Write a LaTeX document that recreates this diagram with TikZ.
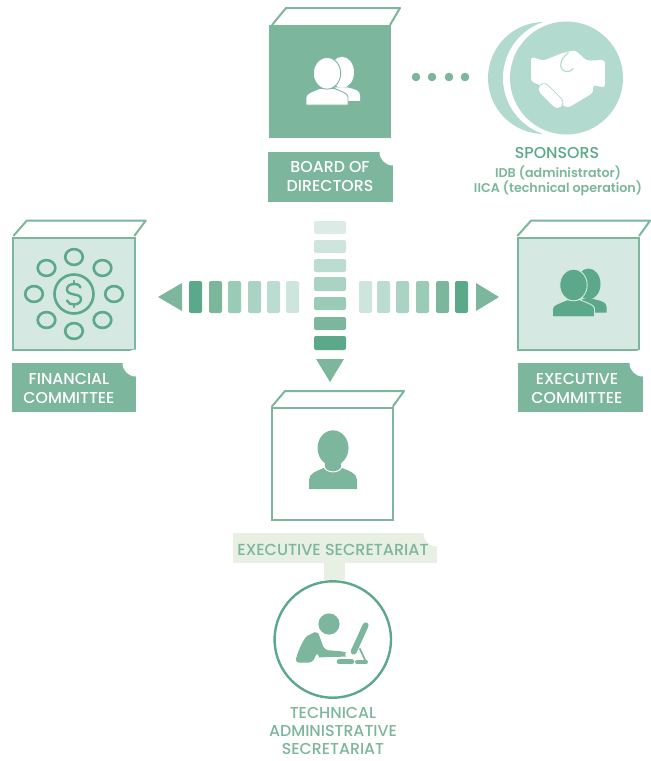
\documentclass[tikz,border=0pt]{standalone}
\usepackage{fontspec}
\setmainfont{Poppins Medium}
\newfontfamily\subfont{Poppins SemiBold}
\definecolor{gA}{HTML}{7CB69D}
\definecolor{gB}{HTML}{5BA88A}
\definecolor{gC}{HTML}{D5E9E2}
\definecolor{gD}{HTML}{B2DACF}
\definecolor{gE}{HTML}{E8EFE3}
\definecolor{b1}{HTML}{DDEBE6}
\definecolor{b2}{HTML}{CEE5DD}
\definecolor{b3}{HTML}{BBDDD1}
\definecolor{b4}{HTML}{ABD3C4}
\definecolor{b5}{HTML}{9ACBB6}
\tikzset{
  face/.style={draw=gA,line width=2pt,minimum width=121.5pt,minimum height=112.3pt,inner sep=0pt,outer sep=0pt,anchor=north west},
  toplid/.style={draw=gA,line width=2pt,fill=white,line join=round},
  labtext/.style={font=\fontsize{15.8}{19}\selectfont,align=center,text=white,inner sep=0pt},
  greentext/.style={font=\fontsize{15.8}{19}\selectfont,align=center,text=gA,inner sep=0pt},
  bar/.style={rounded corners=2pt},
  dot/.style={circle,fill=gA,minimum size=8.6pt,inner sep=0pt},
  ring/.style={draw=gB,line width=2.6pt}
}
\newcommand{\tagbox}[6]{% name x1 y1 x2 y2 colour
  \fill[#6] (#2,#3) rectangle (#4,#5);
  \fill[white] (#4,#3) circle (13.5);
  \coordinate (#1) at ({(#2+#4)/2},{(#3+#5)/2});
}
\newcommand{\twoheads}[4]{% x y fg bg
  \begin{scope}[shift={(#1,#2)}]
    \fill[#3] (15,-1) ellipse (12 and 15.5);
    \fill[#3] (8,14) -- (20,14) .. controls (28,16) and (33,17) .. (33,22) -- (33,27.5) -- (15,27.5) -- cycle;
    \fill[#3,draw=#4,line width=0.9pt] (-21,31.7) -- (-21,23.5) .. controls (-21,20) and (-14,18) .. (-7,15) -- (7,15) .. controls (14,18) and (21,20) .. (21,23.5) -- (21,31.7) -- cycle;
    \fill[#3,draw=#4,line width=0.9pt] (0,0) ellipse (13.7 and 15.8);
  \end{scope}
}
\begin{document}
\begin{tikzpicture}[x=1pt,y=-1pt]
\useasboundingbox (0,0) rectangle (651,761);
% Board
\draw[toplid] (272,25) -- (286,8) -- (400,8) -- (390,25);
\node[minimum width=122pt,minimum height=113pt,fill=gA,inner sep=0pt,outer sep=0pt,anchor=north west] (board) at (269,25) {};
\twoheads{327}{73.3}{white}{gA}
\tagbox{boardlab}{268}{152}{393}{202}{gA}
\node[labtext] (boardtxt) at (330,176.5) {BOARD OF\\DIRECTORS};
% Sponsors
\fill[gD] (544,78) circle (56);
\fill[white] (562,78) circle (59);
\node[circle,fill=gD,minimum size=113pt,inner sep=0pt,outer sep=0pt] (spons) at (566.5,78) {};
\begin{scope}[shift={(520,40)},x=0.3333pt,y=-0.3333pt]
  \fill[white,rounded corners=3pt] (33,50) -- (70,62) -- (125,40) -- (165,30) -- (200,62) -- (255,60) -- (255,143) -- (218,135) -- (220,158) -- (145,203) -- (125,195) -- (60,135) -- (33,124) -- cycle;
  \draw[gD,line width=1.1pt,line cap=round] (145,38) .. controls (128,52) and (113,72) .. (128,90) .. controls (138,98) and (150,96) .. (160,86);
  \draw[gD,line width=12.2pt,line cap=round] (72,148) -- (112,188);
  \draw[white,line width=10.6pt,line cap=round] (72,148) -- (112,188);
\end{scope}
\foreach \i/\px in {1/416,2/432,3/449,4/465} \node[dot] (d\i) at (\px,77) {};
\node[greentext,text=gB] (sponstxt) at (557,153) {SPONSORS};
\node[greentext,font=\subfont\fontsize{12.7}{14.2}\selectfont] (sponsub) at (558,181) {IDB (administrator)\\IICA (technical operation)};
% Vertical bars
\foreach \t/\b/\c in {221/234/b1,240/253/b2,259/272/b3,277/291/b4,297/310/b5,317/330/gA,336/350/gB}
  \fill[\c,bar] (314,\t) rectangle (346,\b);
\fill[gA] (316,359) -- (344,359) -- (330,382) -- cycle;
% Left bars
\foreach \l/\r/\c in {189/202/gB,209/222/gA,228/241/b5,248/261/b4,267/280/b3,286/299/b2}
  \fill[\c,bar] (\l,281) rectangle (\r,313);
\fill[gA] (158,297) -- (182,283) -- (182,311) -- cycle;
% Right bars
\foreach \l/\r/\c in {359/372/b2,377/390/b3,396/409/b4,416/429/b5,436/449/gA,455/468/gB}
  \fill[\c,bar] (\l,281) rectangle (\r,313);
\fill[gA] (476,283) -- (499,297) -- (476,311) -- cycle;
% Financial
\draw[toplid] (13.3,236) -- (26.7,220.7) -- (145.7,220.7) -- (134.3,236);
\node[face,fill=gC] (fin) at (13,237.7) {};
\draw[ring] (74,294) circle (19.5);
\foreach \cx/\cy in {74/257,46.5/268,102.5/268,34/294,114/294,46.5/320,102.5/320,74/331}
  \draw[ring] (\cx,\cy) ellipse (8.8 and 7.9);
\draw[gB,line width=2.4pt,line cap=round] (80.5,287.5) .. controls (79,284) and (76,284) .. (74,284) .. controls (69,284) and (67,287) .. (67,289.5) .. controls (67,293) and (71,294) .. (74,294.5) .. controls (78,295) and (81,296) .. (81,299.5) .. controls (81,302) and (78,304.5) .. (74,304.5) .. controls (71,304.5) and (68,303.5) .. (67,300.5);
\draw[gB,line width=2.4pt,line cap=round] (74,281) -- (74,284) (74,304.5) -- (74,307);
\tagbox{finlab}{12}{363}{136}{412}{gA}
\node[labtext] (fintxt) at (69,388) {FINANCIAL\\COMMITTEE};
% Executive
\draw[toplid] (517.3,236) -- (531,220.7) -- (650,220.7) -- (639,236);
\node[face,fill=gC] (exe) at (517.7,237.7) {};
\twoheads{573.5}{285}{gB}{gC}
\tagbox{exelab}{518}{363}{643}{412}{gA}
\node[labtext] (exetxt) at (577,388) {EXECUTIVE\\COMMITTEE};
% Secretariat
\draw[toplid] (271.7,406.7) -- (285,391) -- (404,391) -- (392.7,406.7);
\node[face,fill=white] (sec) at (271.7,407.7) {};
\begin{scope}[shift={(333,448)}]
  \fill[gA] (-24,41) -- (-24,32) .. controls (-24,25) and (-16,23) .. (-8,19.5) -- (8,19.5) .. controls (16,23) and (24,25) .. (24,32) -- (24,41) -- cycle;
  \draw[white,line width=1pt] (-9,19) .. controls (-6,25.5) and (6,25.5) .. (9,19);
  \fill[gA] (-8,8) -- (8,8) -- (8,19) .. controls (5,23.5) and (-5,23.5) .. (-8,19) -- cycle;
  \fill[gA] (0,0) ellipse (15.5 and 17.7);
\end{scope}
% Exec secretariat label and technical circle
\tagbox{eslab}{233}{533}{437}{563}{gE}
\node[greentext,font=\fontsize{16}{18}\selectfont] (estxt) at (333,550) {EXECUTIVE SECRETARIAT};
\node[circle,draw=gB,line width=2.4pt,minimum size=116.4pt,inner sep=0pt,outer sep=0pt] (tech) at (332.8,639.5) {};
\coordinate (stemtop) at (334.5,563);
\draw[gE,line width=21pt,shorten >=1.2pt] (stemtop) -- (stemtop |- tech.north);
\begin{scope}[shift={(285,600)},x=0.3333pt,y=-0.3333pt]
  \fill[gA] (132,72) circle (10.6pt);
  \fill[gA,rounded corners=4pt] (30,188) .. controls (40,150) and (58,112) .. (78,102) .. controls (92,95) and (100,100) .. (105,112) -- (118,150) -- (172,154) .. controls (180,156) and (180,170) .. (172,170) -- (112,172) .. controls (105,172) and (100,165) .. (97,155) -- (83,188) -- cycle;
  \draw[gA,line width=4.6pt,line cap=round] (162,185) -- (201,185);
  \draw[gA,line width=6pt,line cap=round] (242,76) -- (206,155);
  \draw[gA,line width=1.8pt] (224,145) -- (243,186);
  \draw[gA,line width=4pt,line cap=round] (216,186) -- (243,186);
\end{scope}
\node[greentext,font=\fontsize{15.8}{18}\selectfont] (techtxt) at (333,731) {TECHNICAL\\ADMINISTRATIVE\\SECRETARIAT};
\end{tikzpicture}
\end{document}
